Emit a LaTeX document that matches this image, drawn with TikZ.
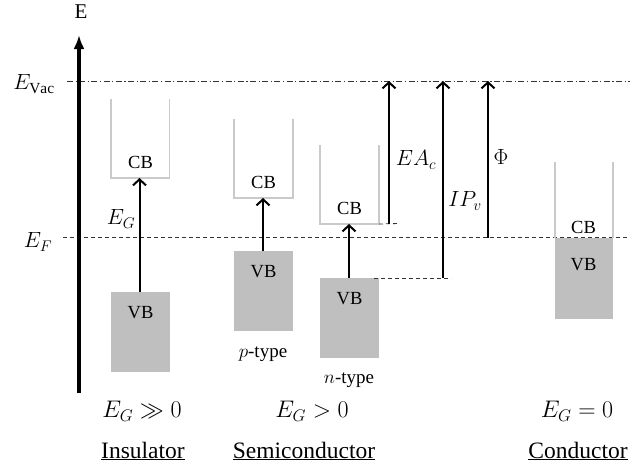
\RequirePackage{fix-cm}
\documentclass[tikz,border=0pt]{standalone}
\usepackage{fontspec}
\setmainfont{Liberation Serif}
\usetikzlibrary{arrows.meta}
\definecolor{vbgray}{HTML}{BFBFBF}
\definecolor{cbgray}{HTML}{CACACA}
\definecolor{lvlgray}{HTML}{333333}
\tikzset{
  cbline/.style={draw=cbgray, line width=1.2pt},
  vbbox/.style={fill=vbgray, draw=none, inner sep=0pt, minimum width=59pt},
  bandtxt/.style={font=\fontsize{18.5}{20}\selectfont, inner sep=0pt},
  gaparrow/.style={line width=2pt, -{Straight Barb[length=6pt,width=13pt,line width=2pt]}},
  fermi/.style={draw=lvlgray, line width=0.8pt, dash pattern=on 4pt off 3pt},
  vac/.style={draw=lvlgray, line width=0.8pt, dash pattern=on 6pt off 2.5pt on 1.2pt off 2.5pt},
  helper/.style={draw=lvlgray, line width=0.8pt, dash pattern=on 4pt off 3pt},
  symtxt/.style={font=\fontsize{22}{24}\selectfont, inner sep=0pt},
  bottxt/.style={font=\fontsize{24}{26}\selectfont, inner sep=0pt},
  namtxt/.style={font=\fontsize{23.5}{26}\selectfont, inner sep=0pt},
  typetxt/.style={font=\fontsize{19}{21}\selectfont, inner sep=0pt},
}
\begin{document}
\begin{tikzpicture}[x=1pt,y=-1pt]
\useasboundingbox (0,0) rectangle (630,472);

% energy levels
\coordinate (vacL) at (67,81);
\coordinate (vacR) at (630,81);
\coordinate (efL) at (63,237.5);
\coordinate (efR) at (630,237.5);
\draw[vac] (vacL) -- (vacR);
\draw[fermi] (efL) -- (efR);
\node[symtxt] (evac) at (34,84) {$E_{\mathrm{Vac}}$};
\node[symtxt] (ef) at (38,242) {$E_F$};

% energy axis
\coordinate (axB) at (79,393);
\coordinate (axT) at (79,35);
\draw[line width=3.4pt, -{Latex[length=14pt,width=11pt]}] (axB) -- (axT);
\node[font=\fontsize{21}{23}\selectfont, inner sep=0pt] (elab) at (81,12) {E};

% ---------- Insulator ----------
\coordinate (iA) at (111,99);
\coordinate (iB) at (111,178);
\coordinate (iC) at (169.5,178);
\coordinate (iD) at (169.5,99);
\draw[cbline] (iA) -- (iB) -- (iC) -- (iD);
\node[bandtxt] (icb) at (140.5,162) {CB};
\node[vbbox, minimum height=80pt, anchor=north] (ivb) at (140.5,292) {};
\node[bandtxt] (ivbt) at (140.5,313) {VB};
\coordinate (iarB) at (139.5,292);
\coordinate (iarT) at (139.5,178);
\draw[gaparrow] (iarB) -- (iarT);
\node[symtxt] (ieg) at (121,219) {$E_G$};

% ---------- p-type ----------
\coordinate (pA) at (234,119);
\coordinate (pB) at (234,198);
\coordinate (pC) at (293,198);
\coordinate (pD) at (293,119);
\draw[cbline] (pA) -- (pB) -- (pC) -- (pD);
\node[bandtxt] (pcb) at (263.5,182) {CB};
\node[vbbox, minimum height=79.5pt, anchor=north] (pvb) at (263.5,251) {};
\node[bandtxt] (pvbt) at (263.5,272) {VB};
\coordinate (parB) at (263,251);
\coordinate (parT) at (263,198);
\draw[gaparrow] (parB) -- (parT);
\node[typetxt] (ptype) at (263,354) {$p$-type};

% ---------- n-type ----------
\coordinate (nA) at (320,145);
\coordinate (nB) at (320,224);
\coordinate (nC) at (379,224);
\coordinate (nD) at (379,145);
\draw[cbline] (nA) -- (nB) -- (nC) -- (nD);
\node[bandtxt] (ncb) at (349.5,208) {CB};
\node[vbbox, minimum height=80pt, anchor=north] (nvb) at (349.5,278) {};
\node[bandtxt] (nvbt) at (349.5,299) {VB};
\coordinate (narB) at (349,278);
\coordinate (narT) at (349,224);
\draw[gaparrow] (narB) -- (narT);
\node[typetxt] (ntype) at (349,380) {$n$-type};

% EA, IP, work function
\coordinate (eaH) at (399,223.5);
\coordinate (eaB) at (389,223.5);
\coordinate (eaT) at (389,81);
\draw[helper] (nC) -- (eaH);
\draw[gaparrow] (eaB) -- (eaT);
\node[symtxt] (ealab) at (416,160) {$EA_c$};

\coordinate (ipL) at (374,278);
\coordinate (ipR) at (451,278);
\coordinate (ipB) at (443,278);
\coordinate (ipT) at (443,81);
\draw[helper] (ipL) -- (ipR);
\draw[gaparrow] (ipB) -- (ipT);
\node[symtxt] (iplab) at (465,201) {$IP_v$};

\coordinate (phB) at (488,237.5);
\coordinate (phT) at (488,81);
\draw[gaparrow] (phB) -- (phT);
\node[symtxt] (phlab) at (501,157) {$\Phi$};

% ---------- Conductor ----------
\node[vbbox, minimum height=81pt, minimum width=58pt, anchor=north] (cvb) at (584,238) {};
\coordinate (cA) at (555,162);
\coordinate (cB) at (555,238);
\coordinate (cC) at (613,238);
\coordinate (cD) at (613,162);
\draw[cbline] (cA) -- (cB);
\draw[cbline] (cC) -- (cD);
\node[bandtxt] (ccb) at (583.5,227) {CB};
\node[bandtxt] (cvbt) at (583.5,265) {VB};

% bottom labels
\node[bottxt] (ineq) at (142,411) {$E_G \gg 0$};
\node[bottxt] (snineq) at (312,411) {$E_G > 0$};
\node[bottxt] (cneq) at (577,411) {$E_G = 0$};
\node[namtxt] (insl) at (143,451) {\underline{Insulator}};
\node[namtxt] (seml) at (304,451) {\underline{Semiconductor}};
\node[namtxt] (conl) at (578,451) {\underline{Conductor}};
\end{tikzpicture}
\end{document}
